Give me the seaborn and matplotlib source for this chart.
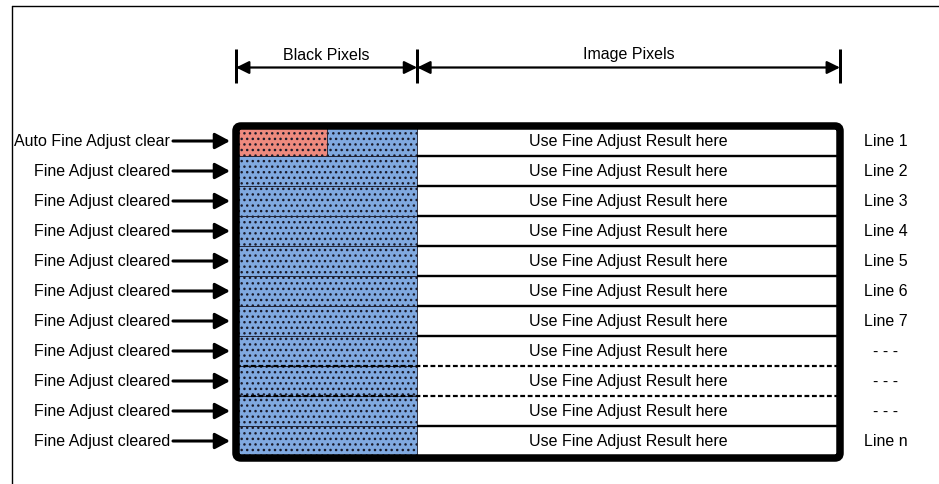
import matplotlib
matplotlib.use("Agg")
import matplotlib.pyplot as plt
import seaborn as sns
import pandas as pd
from matplotlib import transforms
from matplotlib.patches import FancyBboxPatch

# ---------------- data ----------------
rows = [str(i) for i in range(1, 12)]
left_labels = ["Auto Fine Adjust clear"] + ["Fine Adjust cleared"] * 10
right_labels = ["Line 1", "Line 2", "Line 3", "Line 4", "Line 5", "Line 6",
                "Line 7", "- - -", "- - -", "- - -", "Line n"]
cell_text = "Use Fine Adjust Result here"
black_pixels = 30        # share of line width (black pixel region)
image_pixels = 70        # share of line width (image pixel region)
auto_clear_pixels = 15   # part of line 1 used by auto fine adjust clear
separator_styles = ["solid"] * 7 + ["dashed", "dashed", "solid"]
dimension_labels = ["Black Pixels", "Image Pixels"]

# ---------------- style ----------------
sns.set_theme(style="white")
plt.rcParams["font.family"] = ["Liberation Sans", "DejaVu Sans"]
plt.rcParams["hatch.color"] = "#1a1a2a"
plt.rcParams["hatch.linewidth"] = 1.0
FS = 11.5
PX = 0.72  # points per pixel at dpi 100

W, H = 939, 485
fig = plt.figure(figsize=(W / 100, H / 100), dpi=100)
fig.patch.set_facecolor("white")

ax = fig.add_axes([236 / W, 28 / H, 604 / W, 330 / H])
total = black_pixels + image_pixels

df_black = pd.DataFrame({"row": rows, "width": [black_pixels] * len(rows)})
sns.barplot(data=df_black, x="width", y="row", order=rows, orient="h",
            color="#80a9e0", saturation=1, width=1.0, edgecolor="#1a1a2a",
            linewidth=0.6, hatch="...", errorbar=None, ax=ax)
df_auto = pd.DataFrame({"row": [rows[0]], "width": [auto_clear_pixels]})
sns.barplot(data=df_auto, x="width", y="row", order=rows, orient="h",
            color="#ee8a7e", saturation=1, width=1.0, edgecolor="#1a1a2a",
            linewidth=0.6, hatch="...", errorbar=None, ax=ax)

ax.set_xlim(0, total)
ax.set_ylim(len(rows) - 0.5, -0.5)
ax.axis("off")

# row separators
for i, st in enumerate(separator_styles):
    y = i + 0.5
    if st == "solid":
        ax.hlines(y, black_pixels, total, colors="black", lw=2.4 * PX)
    else:
        ax.hlines(y, 0, total, colors="black", lw=2.2 * PX,
                  linestyles=(0, (2.2, 1.2)))

# row texts and labels
for i in range(len(rows)):
    ax.text(black_pixels + image_pixels / 2, i, cell_text, ha="center",
            va="center", fontsize=FS, color="black")
    ax.annotate(left_labels[i], xy=(170, i), xycoords=("figure pixels", "data"),
                ha="right", va="center", fontsize=FS, color="black",
                annotation_clip=False)
    ax.annotate("", xy=(230, i), xytext=(173, i),
                xycoords=("figure pixels", "data"),
                textcoords=("figure pixels", "data"),
                arrowprops=dict(arrowstyle="-|>,head_length=0.75,head_width=0.4",
                                lw=2.2, color="black", shrinkA=0, shrinkB=0),
                annotation_clip=False)
    ax.annotate(right_labels[i], xy=(886, i), xycoords=("figure pixels", "data"),
                ha="center", va="center", fontsize=FS, color="black",
                annotation_clip=False)

# dimension arrows (x from data, y in figure fraction)
blend = transforms.blended_transform_factory(ax.transData, fig.transFigure)
def fy(ypix):
    return 1 - ypix / H

bounds = [0, black_pixels, total]
for xv in bounds:
    ax.plot([xv, xv], [fy(50), fy(84)], transform=blend, color="black",
            lw=3 * PX, clip_on=False, solid_capstyle="butt")
for k in range(2):
    ax.annotate("", xy=(bounds[k], fy(68.5)), xytext=(bounds[k + 1], fy(68.5)),
                xycoords=blend, textcoords=blend,
                arrowprops=dict(arrowstyle="<|-|>,head_length=0.65,head_width=0.32",
                                lw=1.6, color="black", shrinkA=0, shrinkB=0),
                annotation_clip=False)
    ax.text((bounds[k] + bounds[k + 1]) / 2, fy(55), dimension_labels[k],
            transform=blend, ha="center", va="center", fontsize=FS,
            color="black")

# overlay: thick frame and page lines
ov = fig.add_axes([0, 0, 1, 1])
ov.set_xlim(0, W)
ov.set_ylim(H, 0)
ov.axis("off")
ov.add_patch(FancyBboxPatch((236, 127), 604, 332,
                            boxstyle="round,pad=0,rounding_size=5",
                            lw=7.5 * PX, ec="black", fc="none"))
ov.plot([11.5, W], [6.5, 6.5], color="black", lw=1.0)
ov.plot([11.5, 11.5], [6.5, H], color="black", lw=1.0)

fig.savefig("out.png", dpi=100)
